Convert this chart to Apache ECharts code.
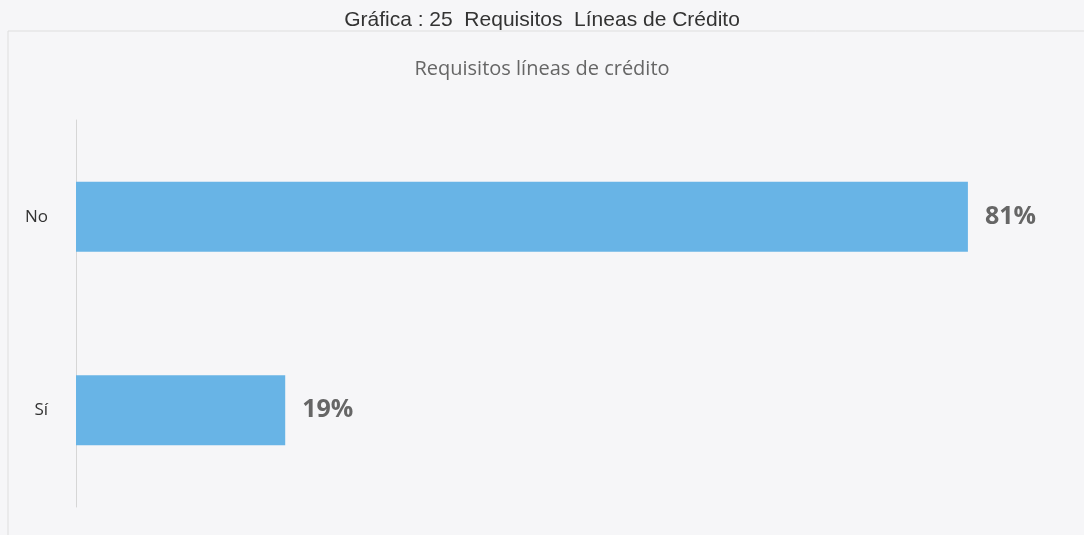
<!DOCTYPE html>
<html>
<head>
<meta charset="utf-8">
<script src="https://cdn.jsdelivr.net/npm/echarts@6/dist/echarts.min.js"></script>
<style>
  html, body { margin: 0; padding: 0; background: #f6f6f8; }
  #chart { width: 1084px; height: 535px; }
</style>
</head>
<body>
<div id="chart"></div>
<script>
// datos de la gráfica
const categories = ['No', 'Sí']
const values = [81, 19]

const chart = echarts.init(document.getElementById('chart'))

const option = {
  backgroundColor: '#f6f6f8',
  animation: false,
  title: [
    {
      text: 'Gráfica : 25  Requisitos  Líneas de Crédito',
      left: 'center',
      top: 5,
      textStyle: { fontFamily: 'Liberation Sans', fontSize: 21, fontWeight: 'normal', color: '#333' }
    },
    {
      text: 'Requisitos líneas de crédito',
      left: 'center',
      top: 54,
      textStyle: { fontFamily: 'Open Sans', fontSize: 20, fontWeight: 'normal', color: '#666' }
    }
  ],
  graphic: [
    {
      type: 'rect',
      shape: { x: 8, y: 31, width: 1090, height: 520 },
      style: { fill: 'none', stroke: '#dedede', lineWidth: 1 },
      silent: true
    }
  ],
  grid: { left: 76, right: 17, top: 120, bottom: 28, containLabel: false },
  xAxis: {
    type: 'value',
    min: 0,
    max: 90,
    show: false
  },
  yAxis: {
    type: 'category',
    data: categories,
    inverse: true,
    axisLine: { show: true, lineStyle: { color: '#d6d6d6', width: 1 } },
    axisTick: { show: false },
    axisLabel: { fontFamily: 'Open Sans', fontSize: 17, color: '#333', margin: 28 }
  },
  series: [
    {
      type: 'bar',
      data: values,
      barWidth: 70,
      itemStyle: { color: '#68b4e6' },
      label: {
        show: true,
        position: 'right',
        distance: 17,
        formatter: '{c}%',
        fontFamily: 'Open Sans',
        fontSize: 25,
        fontWeight: 'bold',
        color: '#666'
      }
    }
  ]
}

chart.setOption(option)
</script>
</body>
</html>
